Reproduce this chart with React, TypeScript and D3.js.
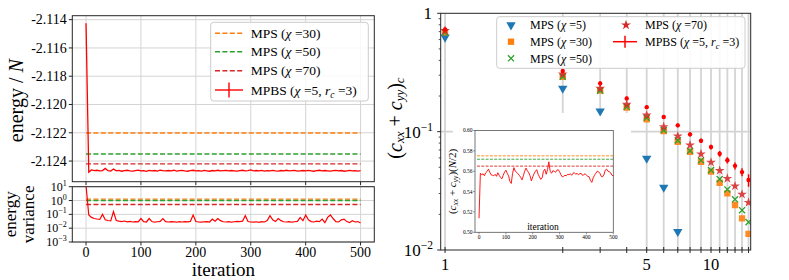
import React from 'react';
import * as d3 from 'd3';

// ---- data ----
const iterStep = 5;
const energyMPBS = [
  -2.11425, -2.12478, -2.12463, -2.12468, -2.12465, -2.12470, -2.12467, -2.12452, -2.12468, -2.12471,
  -2.12456, -2.12469, -2.12466, -2.12472, -2.12468, -2.12465, -2.12469, -2.12471, -2.12467, -2.12464,
  -2.12470, -2.12468, -2.12473, -2.12466, -2.12469, -2.12467, -2.12471, -2.12465, -2.12468, -2.12470,
  -2.12467, -2.12469, -2.12465, -2.12471, -2.12468, -2.12466, -2.12470, -2.12472, -2.12467, -2.12465,
  -2.12469, -2.12468, -2.12471, -2.12466, -2.12469, -2.12472, -2.12467, -2.12469, -2.12465, -2.12470,
  -2.12468, -2.12466, -2.12470, -2.12467, -2.12469, -2.12471, -2.12468, -2.12465, -2.12470, -2.12468,
  -2.12463, -2.12470, -2.12467, -2.12469, -2.12466, -2.12471, -2.12468, -2.12470, -2.12466, -2.12469,
  -2.12471, -2.12467, -2.12469, -2.12465, -2.12470, -2.12468, -2.12466, -2.12471, -2.12469, -2.12467,
  -2.12470, -2.12466, -2.12469, -2.12472, -2.12468, -2.12465, -2.12470, -2.12467, -2.12469, -2.12471,
  -2.12468, -2.12466, -2.12470, -2.12467, -2.12472, -2.12469, -2.12466, -2.12470, -2.12468, -2.12471,
  -2.12468,
];
const varianceMPBS = [
  12, 0.09, 0.06, 0.05, 0.046, 0.043, 0.1, 0.04, 0.036, 0.034,
  0.16, 0.036, 0.032, 0.03, 0.033, 0.029, 0.031, 0.028, 0.03, 0.029,
  0.05, 0.03, 0.028, 0.05, 0.03, 0.027, 0.029, 0.031, 0.05, 0.03,
  0.028, 0.03, 0.029, 0.027, 0.03, 0.028, 0.03, 0.029, 0.031, 0.09,
  0.03, 0.028, 0.027, 0.029, 0.03, 0.028, 0.045, 0.032, 0.05, 0.035,
  0.029, 0.028, 0.03, 0.027, 0.029, 0.031, 0.03, 0.032, 0.08, 0.03,
  0.028, 0.027, 0.029, 0.026, 0.03, 0.028, 0.035, 0.08, 0.04, 0.03,
  0.05, 0.035, 0.029, 0.028, 0.03, 0.027, 0.029, 0.031, 0.06, 0.035,
  0.09, 0.04, 0.03, 0.028, 0.032, 0.03, 0.045, 0.025, 0.06, 0.09,
  0.05, 0.03, 0.028, 0.04, 0.045, 0.03, 0.025, 0.035, 0.028, 0.03,
  0.024,
];
const insetMPBS = [
  0.5138, 0.5580, 0.5565, 0.5575, 0.5555, 0.5585, 0.5598, 0.5620, 0.5590, 0.5565,
  0.5560, 0.5555, 0.5570, 0.5550, 0.5585, 0.5560, 0.5540, 0.5525, 0.5560, 0.5590,
  0.5610, 0.5580, 0.5555, 0.5500, 0.5480, 0.5580, 0.5635, 0.5600, 0.5590, 0.5575,
  0.5560, 0.5540, 0.5515, 0.5555, 0.5600, 0.5630, 0.5605, 0.5585, 0.5555, 0.5505,
  0.5545, 0.5575, 0.5600, 0.5615, 0.5570, 0.5545, 0.5520, 0.5535, 0.5600, 0.5620,
  0.5570, 0.5615, 0.5692, 0.5600, 0.5580, 0.5605, 0.5600, 0.5590, 0.5610, 0.5615,
  0.5595, 0.5565, 0.5545, 0.5550, 0.5560, 0.5555, 0.5570, 0.5565, 0.5575, 0.5560,
  0.5580, 0.5585, 0.5570, 0.5580, 0.5565, 0.5575, 0.5580, 0.5560, 0.5565, 0.5575,
  0.5560, 0.5550, 0.5545, 0.5510, 0.5490, 0.5535, 0.5560, 0.5580, 0.5600, 0.5595,
  0.5580, 0.5550, 0.5545, 0.5565, 0.5610, 0.5620, 0.5600, 0.5595, 0.5585, 0.5560,
  0.5555,
];

const mpsChi = ['30', '50', '70'];
const mpsEnergy = [-2.12202, -2.1235, -2.1242];
const mpsVariance = [1.26, 1.0, 0.51];
const mpsInset = [0.5751, 0.5718, 0.565];
const mpsColors = ['#ff7f0e', '#2ca02c', '#d62728'];

const iterTicks = [0, 100, 200, 300, 400, 500];
const energyTicks = [-2.114, -2.116, -2.118, -2.12, -2.122, -2.124];
const varianceTicks = [1e1, 1e0, 1e-1, 1e-2, 1e-3];
const varianceTickExp = ['1', '0', '\u22121', '\u22122', '\u22123'];

const sites = [1, 2, 3, 4, 5, 6, 7, 8, 9, 10, 11, 12, 13, 14, 15];
const siteDist = [1, 2.77, 3.83, 4.82, 5.73, 6.64, 7.5, 8.34, 9.17, 10, 10.78, 11.52, 12.31, 13.08, 13.84];
const siteLabels = [1, 5, 10];
const corrMPS5 = [0.627, 0.232, 0.149, null, 0.0595, 0.0338, 0.0143, null, null, null, null, null, null, null, null];
const corrMPS30 = [0.691, 0.291, 0.222, 0.16, 0.127, 0.101, 0.0822, 0.0676, 0.0557, 0.046, 0.037, 0.0301, 0.024, 0.0185, 0.0137];
const corrMPS50 = [0.69, 0.291, 0.222, 0.162, 0.131, 0.103, 0.0844, 0.069, 0.0572, 0.0473, 0.0397, 0.0325, 0.0268, 0.0217, 0.0172];
const corrMPS70 = [0.713, 0.307, 0.232, 0.17, 0.138, 0.11, 0.0918, 0.0771, 0.0647, 0.055, 0.0469, 0.0402, 0.0347, 0.0295, 0.0252];
const corrMPBS = [0.732, 0.325, 0.256, 0.191, 0.161, 0.133, 0.113, 0.0949, 0.0838, 0.0741, 0.065, 0.0573, 0.0514, 0.0455, 0.039];
const corrMPBSErr = [0.03, 0.012, 0.01, 0.007, 0.006, 0.005, 0.004, 0.004, 0.0035, 0.0035, 0.0035, 0.0035, 0.0035, 0.0036, 0.0047];

const insetYTicks = [0.5, 0.52, 0.54, 0.56, 0.58, 0.6];

const serif = 'Liberation Serif, DejaVu Serif, serif';
const gridC = '#d4d4d4';
const spineC = '#262626';

const Chi = () => <tspan fontStyle="italic">χ</tspan>;
const MpsLabel = ({ chi }: { chi: string }) => (<>MPS (<Chi /> ={chi})</>);
const MpbsLabel = () => (
  <>MPBS (<Chi /> =5, <tspan fontStyle="italic">r</tspan><tspan fontStyle="italic" fontSize="0.7em" dy={3}>c</tspan><tspan dy={-3}> =3)</tspan></>
);

export default function App() {
  const W = 789, H = 280;

  // left panels
  const xI = d3.scaleLinear().domain([-25, 525]).range([72.3, 374.3]);
  const yE = d3.scaleLinear().domain([-2.12546, -2.11372]).range([181.7, 15.7]);
  const yV = d3.scaleLog().domain([1e-3, 1e1]).range([242, 186.7]);
  const iters = energyMPBS.map((_, i) => i * iterStep);
  const lineE = d3.line<number>().x((_, i) => xI(iters[i])).y(d => yE(d));
  const lineV = d3.line<number>().x((_, i) => xI(iters[i])).y(d => yV(d));

  // right panel
  const xR = d3.scaleLog().domain([0.963, 14.1]).range([440.7, 750.7]);
  const yR = d3.scaleLog().domain([0.01, 1]).range([250, 13.3]);
  const minorR = [0.02, 0.03, 0.04, 0.05, 0.06, 0.07, 0.08, 0.09, 0.2, 0.3, 0.4, 0.5, 0.6, 0.7, 0.8, 0.9];

  // inset
  const xIn = d3.scaleLinear().domain([-15, 500]).range([475, 613.3]);
  const yIn = d3.scaleLinear().domain([0.5, 0.6]).range([232.3, 130.5]);
  const lineIn = d3.line<number>().x((_, i) => xIn(iters[i])).y(d => yIn(d));

  const tri = d3.symbol().type(d3.symbolTriangle).size(38)();
  const sq = d3.symbol().type(d3.symbolSquare).size(40)();
  const cross = d3.symbol().type(d3.symbolX).size(26)();
  const star = d3.symbol().type(d3.symbolStar).size(30)();

  const [ex0, ex1] = xI.range();
  const [ey1, ey0] = yE.range();
  const [vy1, vy0] = yV.range();
  const [rx0, rx1] = xR.range();
  const [ry1, ry0] = yR.range();
  const [ix0, ix1] = xIn.range();
  const [iy1, iy0] = yIn.range();

  const legendRowsL = [33.3, 51.7, 70.7, 90];
  const legendRowsR = [25, 41.7, 58.3];

  return (
    <svg width={W} height={H} style={{ position: 'absolute', left: 0, top: 0, background: '#fff', fontFamily: serif }}>
      <defs>
        <clipPath id="clipE"><rect x={ex0} y={ey0} width={ex1 - ex0} height={ey1 - ey0} /></clipPath>
        <clipPath id="clipV"><rect x={ex0} y={vy0} width={ex1 - ex0} height={vy1 - vy0} /></clipPath>
        <clipPath id="clipR"><rect x={rx0} y={ry0} width={rx1 - rx0} height={ry1 - ry0} /></clipPath>
      </defs>

      {/* ===== left top: energy ===== */}
      <g>
        {iterTicks.map(t => <line key={t} x1={xI(t)} x2={xI(t)} y1={ey0} y2={ey1} stroke={gridC} strokeWidth={1} />)}
        {energyTicks.map(t => <line key={t} x1={ex0} x2={ex1} y1={yE(t)} y2={yE(t)} stroke={gridC} strokeWidth={1} />)}
        <g clipPath="url(#clipE)">
          {mpsEnergy.map((v, i) => (
            <line key={i} x1={xI(0)} x2={xI(500)} y1={yE(v)} y2={yE(v)} stroke={mpsColors[i]} strokeWidth={1.4} strokeDasharray="5,2.4" />
          ))}
          <path d={lineE(energyMPBS) || ''} fill="none" stroke="red" strokeWidth={1.3} />
        </g>
        <rect x={ex0} y={ey0} width={ex1 - ex0} height={ey1 - ey0} fill="none" stroke={spineC} strokeWidth={1} />
        {energyTicks.map(t => (
          <g key={t}>
            <line x1={ex0 - 3.5} x2={ex0} y1={yE(t)} y2={yE(t)} stroke={spineC} />
            <text x={ex0 - 5.5} y={yE(t)} dy="0.34em" textAnchor="end" fontSize={14}>{t.toFixed(3)}</text>
          </g>
        ))}
        {iterTicks.map(t => <line key={t} x1={xI(t)} x2={xI(t)} y1={ey1} y2={ey1 + 3.5} stroke={spineC} />)}
        <text transform={`translate(16,${(ey0 + ey1) / 2 + 2}) rotate(-90)`} textAnchor="middle" dominantBaseline="central" fontSize={20}>
          energy / <tspan fontStyle="italic">N</tspan>
        </text>
        {/* legend */}
        <rect x={210.7} y={22.3} width={157.6} height={78.7} rx={3} fill="#fff" fillOpacity={0.85} stroke="#cccccc" strokeWidth={1} />
        {mpsChi.map((c, i) => (
          <g key={c}>
            <line x1={215} x2={243} y1={legendRowsL[i]} y2={legendRowsL[i]} stroke={mpsColors[i]} strokeWidth={1.4} strokeDasharray="5,2.4" />
            <text x={250.7} y={legendRowsL[i]} dy="0.35em" fontSize={13.5}><MpsLabel chi={c} /></text>
          </g>
        ))}
        <line x1={215} x2={243} y1={legendRowsL[3]} y2={legendRowsL[3]} stroke="red" strokeWidth={1.4} />
        <line x1={229} x2={229} y1={legendRowsL[3] - 7.5} y2={legendRowsL[3] + 7.5} stroke="red" strokeWidth={1.4} />
        <text x={250.7} y={legendRowsL[3]} dy="0.35em" fontSize={13.5}><MpbsLabel /></text>
      </g>

      {/* ===== left bottom: variance ===== */}
      <g>
        {iterTicks.map(t => <line key={t} x1={xI(t)} x2={xI(t)} y1={vy0} y2={vy1} stroke={gridC} strokeWidth={1} />)}
        {varianceTicks.map(t => <line key={t} x1={ex0} x2={ex1} y1={yV(t)} y2={yV(t)} stroke={gridC} strokeWidth={1} />)}
        <g clipPath="url(#clipV)">
          {mpsVariance.map((v, i) => (
            <line key={i} x1={xI(0)} x2={xI(500)} y1={yV(v)} y2={yV(v)} stroke={mpsColors[i]} strokeWidth={1.4} strokeDasharray="5,2.4" />
          ))}
          <path d={lineV(varianceMPBS) || ''} fill="none" stroke="red" strokeWidth={1.2} />
        </g>
        <rect x={ex0} y={vy0} width={ex1 - ex0} height={vy1 - vy0} fill="none" stroke={spineC} strokeWidth={1} />
        {varianceTicks.map((t, i) => (
          <g key={t}>
            <line x1={ex0 - 3.5} x2={ex0} y1={yV(t)} y2={yV(t)} stroke={spineC} />
            <text x={ex0 - 5.5} y={yV(t) + 4} textAnchor="end" fontSize={12}>10<tspan dy={-5} fontSize={8}>{varianceTickExp[i]}</tspan></text>
          </g>
        ))}
        {iterTicks.map(t => (
          <g key={t}>
            <line x1={xI(t)} x2={xI(t)} y1={vy1} y2={vy1 + 3.5} stroke={spineC} />
            <text x={xI(t)} y={256.5} textAnchor="middle" fontSize={14}>{t}</text>
          </g>
        ))}
        <text x={(ex0 + ex1) / 2} y={276} textAnchor="middle" fontSize={19}>iteration</text>
        <text transform={`translate(10,${(vy0 + vy1) / 2}) rotate(-90)`} textAnchor="middle" dominantBaseline="central" fontSize={17}>energy</text>
        <text transform={`translate(28,${(vy0 + vy1) / 2}) rotate(-90)`} textAnchor="middle" dominantBaseline="central" fontSize={17}>variance</text>
      </g>

      {/* ===== right: correlation ===== */}
      <g>
        {siteDist.map((d, i) => <line key={i} x1={xR(d)} x2={xR(d)} y1={ry0} y2={ry1} stroke={gridC} strokeWidth={1.8} />)}
        <line x1={rx0} x2={rx1} y1={yR(0.1)} y2={yR(0.1)} stroke={gridC} strokeWidth={1.8} />
        {/* white background of the inset */}
        <rect x={453} y={113} width={178} height={ry1 - 113} fill="#fff" />
        <g clipPath="url(#clipR)">
          {corrMPS5.map((v, i) => v == null ? null : (
            <path key={i} d={tri || ''} transform={`translate(${xR(siteDist[i])},${yR(v)}) rotate(180)`} fill="#1f77b4" />
          ))}
          {corrMPS30.map((v, i) => (
            <path key={i} d={sq || ''} transform={`translate(${xR(siteDist[i])},${yR(v)})`} fill="#ff7f0e" fillOpacity={0.9} />
          ))}
          {corrMPS50.map((v, i) => (
            <path key={i} d={cross || ''} transform={`translate(${xR(siteDist[i])},${yR(v)})`} fill="none" stroke="#2ca02c" strokeWidth={1.3} />
          ))}
          {corrMPS70.map((v, i) => (
            <path key={i} d={star || ''} transform={`translate(${xR(siteDist[i])},${yR(v)})`} fill="#d62728" fillOpacity={0.85} />
          ))}
          {corrMPBS.map((v, i) => (
            <g key={i}>
              <line x1={xR(siteDist[i])} x2={xR(siteDist[i])} y1={yR(v - corrMPBSErr[i])} y2={yR(v + corrMPBSErr[i])} stroke="red" strokeWidth={1.5} />
              <circle cx={xR(siteDist[i])} cy={yR(v)} r={2.2} fill="red" />
            </g>
          ))}
        </g>
        <rect x={rx0} y={ry0} width={rx1 - rx0} height={ry1 - ry0} fill="none" stroke={spineC} strokeWidth={1} />
        {minorR.map(t => <line key={t} x1={rx0 - 2} x2={rx0} y1={yR(t)} y2={yR(t)} stroke={spineC} strokeWidth={0.8} />)}
        {[1, 0.1, 0.01].map(t => <line key={t} x1={rx0 - 3.5} x2={rx0} y1={yR(t)} y2={yR(t)} stroke={spineC} />)}
        <text x={432} y={yR(1) + 6} textAnchor="end" fontSize={17}>1</text>
        <text x={433} y={yR(0.1) + 6} textAnchor="end" fontSize={17}>10<tspan dy={-7} fontSize={11.5}>{'\u22121'}</tspan></text>
        <text x={433} y={yR(0.01) + 6} textAnchor="end" fontSize={17}>10<tspan dy={-7} fontSize={11.5}>{'\u22122'}</tspan></text>
        {siteDist.map((d, i) => <line key={i} x1={xR(d)} x2={xR(d)} y1={ry1 - 3} y2={ry1 + 3} stroke={spineC} />)}
        {siteLabels.map(s => (
          <text key={s} x={xR(siteDist[sites.indexOf(s)])} y={270} textAnchor="middle" fontSize={16.5}>{s}</text>
        ))}
        <text transform={`translate(395,118) rotate(-90)`} textAnchor="middle" dominantBaseline="central" fontSize={20}>
          (<tspan fontStyle="italic">c</tspan><tspan fontStyle="italic" fontSize={13} dy={4}>xx</tspan><tspan dy={-4}> + </tspan><tspan fontStyle="italic">c</tspan><tspan fontStyle="italic" fontSize={13} dy={4}>yy</tspan><tspan dy={-4}>)</tspan><tspan fontStyle="italic" fontSize={13} dy={4}>c</tspan>
        </text>

        {/* legend */}
        <rect x={496.7} y={16.7} width={248.3} height={51.6} rx={3} fill="#fff" fillOpacity={0.9} stroke="#cccccc" strokeWidth={1} />
        <path d={tri || ''} transform={`translate(511,${legendRowsR[0]}) rotate(180)`} fill="#1f77b4" />
        <text x={530} y={legendRowsR[0]} dy="0.35em" fontSize={12}><MpsLabel chi="5" /></text>
        <path d={sq || ''} transform={`translate(511,${legendRowsR[1]})`} fill="#ff7f0e" />
        <text x={530} y={legendRowsR[1]} dy="0.35em" fontSize={12}><MpsLabel chi="30" /></text>
        <path d={cross || ''} transform={`translate(511,${legendRowsR[2]})`} fill="none" stroke="#2ca02c" strokeWidth={1.3} />
        <text x={530} y={legendRowsR[2]} dy="0.35em" fontSize={12}><MpsLabel chi="50" /></text>
        <path d={star || ''} transform={`translate(626,${legendRowsR[0]})`} fill="#d62728" />
        <text x={645} y={legendRowsR[0]} dy="0.35em" fontSize={12}><MpsLabel chi="70" /></text>
        <line x1={613} x2={637} y1={legendRowsR[1]} y2={legendRowsR[1]} stroke="red" strokeWidth={1.5} />
        <line x1={625} x2={625} y1={legendRowsR[1] - 6} y2={legendRowsR[1] + 6} stroke="red" strokeWidth={1.5} />
        <text x={645} y={legendRowsR[1]} dy="0.35em" fontSize={12}><MpbsLabel /></text>
      </g>

      {/* ===== inset ===== */}
      <g>
        {mpsInset.map((v, i) => (
          <line key={i} x1={ix0 + 2} x2={ix1} y1={yIn(v)} y2={yIn(v)} stroke={mpsColors[i]} strokeWidth={0.9} strokeDasharray="3,1.3" />
        ))}
        <path d={lineIn(insetMPBS) || ''} fill="none" stroke="red" strokeWidth={0.9} />
        <rect x={ix0} y={iy0} width={ix1 - ix0} height={iy1 - iy0} fill="none" stroke="#555" strokeWidth={0.8} />
        {insetYTicks.map(t => (
          <g key={t}>
            <line x1={ix0 - 2} x2={ix0} y1={yIn(t)} y2={yIn(t)} stroke="#555" strokeWidth={0.6} />
            <text x={472.5} y={yIn(t)} dy="0.35em" textAnchor="end" fontSize={5.5}>{t.toFixed(2)}</text>
          </g>
        ))}
        {iterTicks.map(t => (
          <g key={t}>
            <line x1={xIn(t)} x2={xIn(t)} y1={iy1} y2={iy1 + 2} stroke="#555" strokeWidth={0.6} />
            <text x={xIn(t)} y={239} textAnchor="middle" fontSize={5.5}>{t}</text>
          </g>
        ))}
        <text x={543} y={230} textAnchor="middle" fontSize={9.5}>iteration</text>
        <text transform={`translate(452,${(iy0 + iy1) / 2}) rotate(-90)`} textAnchor="middle" dominantBaseline="central" fontSize={11}>
          (<tspan fontStyle="italic">c</tspan><tspan fontStyle="italic" fontSize={7.5} dy={2.5}>xx</tspan><tspan dy={-2.5}> + </tspan><tspan fontStyle="italic">c</tspan><tspan fontStyle="italic" fontSize={7.5} dy={2.5}>yy</tspan><tspan dy={-2.5}>)(</tspan><tspan fontStyle="italic">N</tspan>/2)
        </text>
      </g>
    </svg>
  );
}
